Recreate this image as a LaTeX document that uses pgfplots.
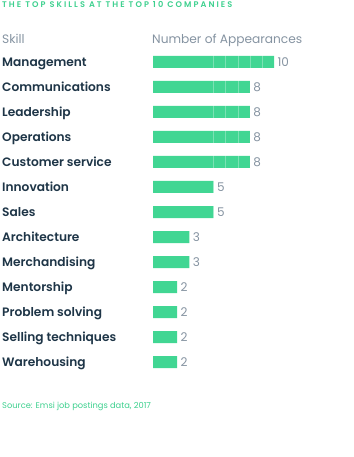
\documentclass[border=0pt]{standalone}
\usepackage{pgfplots}
\pgfplotsset{compat=1.18}
\usepackage{fontspec}
\setmainfont{Poppins}[BoldFont={Poppins SemiBold}]
\newfontfamily\titlefont[LetterSpace=25]{Poppins SemiBold}
\definecolor{barg}{HTML}{41D693}
\definecolor{titleg}{HTML}{3DD08E}
\definecolor{navy}{HTML}{1E3547}
\definecolor{gry}{HTML}{8593A1}
\begin{document}
\begin{tikzpicture}[x=1pt,y=1pt]
\useasboundingbox (0,0) rectangle (353,457);
\node[anchor=base west, inner sep=0, text=titleg, font=\titlefont\fontsize{8.2}{9}\selectfont] at (2,449.5) {THE TOP SKILLS AT THE TOP 10 COMPANIES};
\node[anchor=base west, inner sep=0, text=gry, font=\fontsize{12.2}{14}\selectfont] at (2,413) {Skill};
\node[anchor=base west, inner sep=0, text=gry, font=\fontsize{12.2}{14}\selectfont] at (152,413) {Number of Appearances};
\node[anchor=base west, inner sep=0, text=titleg, font=\fontsize{8.3}{9}\selectfont] at (2,48) {Source: Emsi job postings data, 2017};
\begin{axis}[
  at={(153pt,395pt)}, anchor=origin,
  x=12.1pt, y=25pt, y dir=reverse,
  xmin=0, xmax=15, ymin=-0.5, ymax=12.5,
  /pgf/number format/assume math mode=true,
  axis line style={draw=none},
  major tick length=0pt,
  xtick={5,6,7,8,9}, xticklabels={},
  xmajorgrids, grid style={white, opacity=0.3, line width=0.4pt},
  axis on top,
  ytick={0,...,12},
  yticklabels={Management,Communications,Leadership,Operations,Customer service,Innovation,Sales,Architecture,Merchandising,Mentorship,Problem solving,Selling techniques,Warehousing},
  yticklabel style={anchor=base west, xshift=-151pt, yshift=-4.3pt, inner sep=0pt, text=navy, font=\fontsize{12.2}{14}\selectfont\bfseries},
  clip=false,
]
\addplot[xbar, fill=barg, draw=none, bar width=12pt,
  nodes near coords, nodes near coords style={anchor=base west, yshift=-4.3pt, text=gry, font=\fontsize{12}{14}\selectfont, xshift=0pt}]
  coordinates {(10,0) (8,1) (8,2) (8,3) (8,4) (5,5) (5,6) (3,7) (3,8) (2,9) (2,10) (2,11) (2,12)};
\end{axis}
\end{tikzpicture}
\end{document}
